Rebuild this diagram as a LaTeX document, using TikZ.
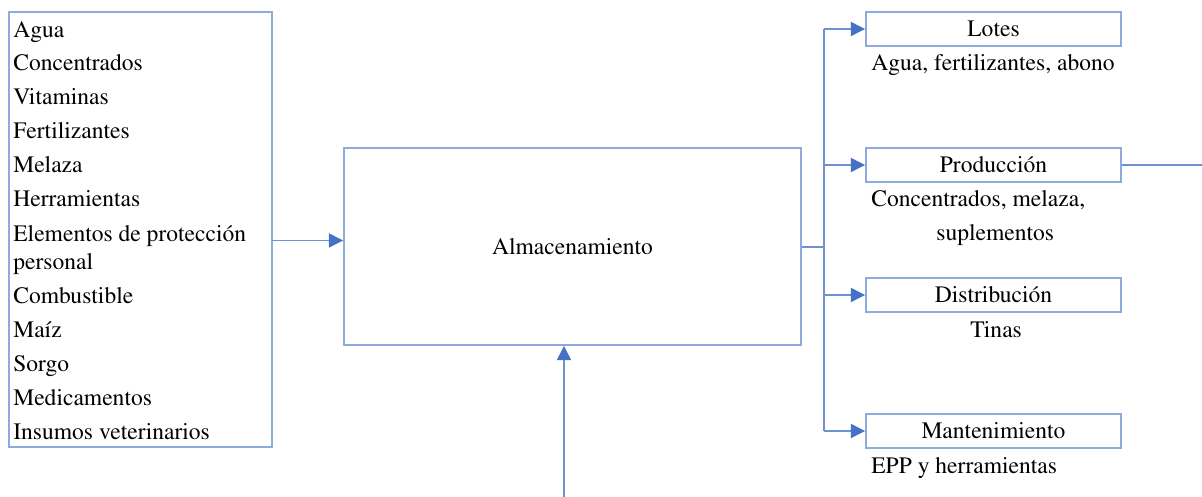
\documentclass[tikz,border=0pt]{standalone}
\usepackage[T1]{fontenc}
\usepackage{mathptmx}
\usetikzlibrary{arrows.meta}

\definecolor{boxblue}{RGB}{143,170,220}
\definecolor{lineblue}{RGB}{112,145,208}
\definecolor{tipblue}{RGB}{68,114,196}

\tikzset{
    box/.style={draw=boxblue, line width=1.1pt, rectangle, inner sep=0pt},
    item/.style={anchor=base west, inner sep=0pt, align=left},
    link/.style={draw=lineblue, line width=0.7pt},
    flow/.style={link, -{Triangle[length=8pt, width=8pt, color=tipblue]}},
}

\begin{document}
\begin{tikzpicture}[font=\fontsize{13.4}{16.4}\selectfont]
    \useasboundingbox (0,0) rectangle (24.04,-9.94);

    % inputs
    \node [box, minimum width=5.26cm, minimum height=8.70cm] (ins) at (2.81,-4.59) {};
    \foreach \y/\t [count=\i] in {
        0.76/Agua, 1.42/Concentrados, 2.10/Vitaminas, 2.78/Fertilizantes,
        3.46/Melaza, 4.14/Herramientas,
        6.08/Combustible, 6.76/Ma\'{\i}z, 7.44/Sorgo, 8.12/Medicamentos,
        8.80/Insumos veterinarios} {
        \node [item] (in\i) at (0.26,-\y) {\t};
    }
    \node [item, anchor=west] (epp) at (0.26,-5.00) {Elementos de protecci\'on\\personal};

    % storage
    \node [box, minimum width=9.14cm, minimum height=3.94cm] (alm) at (11.45,-4.93) {Almacenamiento};

    % outputs
    \node [box, minimum width=5.10cm, minimum height=0.68cm] (lot) at (19.87,-0.58) {Lotes};
    \node [box, minimum width=5.10cm, minimum height=0.68cm] (pro) at (19.87,-3.30) {Producci\'on};
    \node [box, minimum width=5.10cm, minimum height=0.68cm] (dis) at (19.87,-5.90) {Distribuci\'on};
    \node [box, minimum width=5.10cm, minimum height=0.68cm] (man) at (19.87,-8.62) {Mantenimiento};

    \node [item] (lotx) at (17.42,-1.42) {Agua, fertilizantes, abono};
    \node [item] (prox) at (17.42,-4.14) {Concentrados, melaza,};
    \node [item] (proy) at (18.72,-4.81) {suplementos};
    \node [item] (disx) at (19.40,-6.76) {Tinas};
    \node [item] (manx) at (17.42,-9.48) {EPP y herramientas};

    \coordinate (inR)  at (5.44,-4.81);
    \coordinate (up)   at (11.28,-9.94);
    \coordinate (fork) at (16.48,-4.94);
    \coordinate (top)  at (16.48,-0.58);
    \coordinate (bot)  at (16.48,-8.62);
    \coordinate (away) at (24.04,-3.30);

    % connectors
    \draw [flow] (inR) -- (inR -| alm.west);
    \draw [flow] (up) -- (up |- alm.south);
    \draw [link] (alm.east |- fork) -- (fork);
    \draw [link] (top) -- (bot);
    \foreach \n in {lot,pro,dis,man} {
        \draw [flow] (top |- \n) -- (\n.west);
    }
    \draw [link] (pro.east) -- (away);
\end{tikzpicture}
\end{document}
